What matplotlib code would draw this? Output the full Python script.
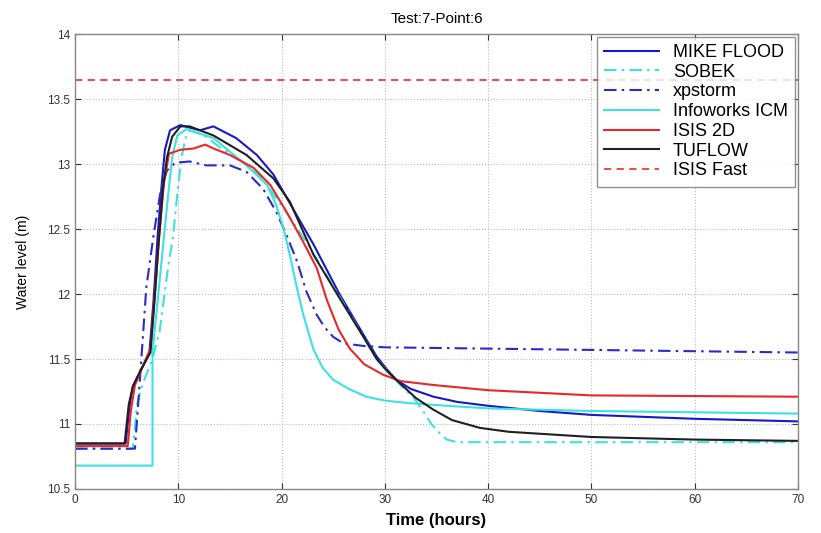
import matplotlib
matplotlib.use("Agg")
import matplotlib.pyplot as plt
import numpy as np

plt.rcParams['font.family'] = ['Liberation Sans', 'DejaVu Sans']

title = "Test:7-Point:6"
xlabel = "Time (hours)"
ylabel = "Water level (m)"

mike_t = [0, 4.9, 5.3, 5.6, 6.4, 7.2, 7.6, 8.0, 8.4, 8.7, 9.2, 10.2, 12.1, 13.4, 15.6, 17.6, 19.2, 20.5, 21.8, 23.1, 25.6, 28.2, 29.2, 30.2, 31.1, 32.5, 34.7, 37, 40, 45, 50, 60, 70]
mike_h = [10.85, 10.85, 11.15, 11.29, 11.42, 11.55, 11.95, 12.45, 12.85, 13.11, 13.26, 13.3, 13.26, 13.29, 13.2, 13.07, 12.92, 12.74, 12.56, 12.38, 12.0, 11.65, 11.52, 11.42, 11.34, 11.27, 11.21, 11.17, 11.14, 11.1, 11.07, 11.04, 11.02]

sobek_t = [0, 5.6, 6.0, 6.5, 7.5, 8.2, 9.0, 9.5, 9.9, 10.3, 10.7, 11.1, 12.5, 14, 16, 18, 20, 22.4, 25.6, 29.2, 31.5, 32.8, 33.7, 34.5, 35.3, 36, 37, 50, 70]
sobek_h = [10.81, 10.81, 11.15, 11.3, 11.5, 11.72, 12.2, 12.45, 12.77, 13.05, 13.2, 13.26, 13.22, 13.13, 13.03, 12.9, 12.68, 12.4, 11.98, 11.5, 11.3, 11.2, 11.1, 11.0, 10.93, 10.88, 10.86, 10.86, 10.86]

xp_t = [0, 5.8, 6.2, 6.9, 7.6, 8.3, 8.9, 9.7, 11.1, 12.7, 15, 16.6, 18.2, 19.5, 20.5, 21.5, 22.4, 23.4, 24.2, 25, 26, 28, 30, 40, 50, 70]
xp_h = [10.81, 10.81, 11.25, 12.05, 12.45, 12.8, 12.95, 13.01, 13.02, 12.99, 12.99, 12.94, 12.81, 12.63, 12.45, 12.25, 12.02, 11.84, 11.74, 11.67, 11.62, 11.6, 11.59, 11.58, 11.57, 11.55]

icm_t = [0, 7.5, 7.5, 8.0, 8.5, 9.0, 9.4, 9.9, 10.8, 13.4, 16.6, 18.6, 19.5, 20.2, 20.8, 21.5, 22.1, 23.1, 24, 25, 26.5, 28.2, 30, 32.4, 36, 40, 50, 70]
icm_h = [10.68, 10.68, 11.55, 11.95, 12.35, 12.75, 13.05, 13.22, 13.27, 13.2, 12.99, 12.84, 12.68, 12.5, 12.3, 12.04, 11.84, 11.57, 11.43, 11.34, 11.27, 11.21, 11.18, 11.16, 11.14, 11.12, 11.1, 11.08]

isis_t = [0, 5.1, 5.4, 5.8, 6.6, 7.3, 7.7, 8.1, 8.6, 9.1, 10.2, 11.5, 12.6, 13.4, 15, 17.3, 18.9, 20.5, 22.1, 23.4, 24.4, 25.5, 26.6, 28, 29.8, 31.5, 34.7, 40, 50, 70]
isis_h = [10.83, 10.83, 11.1, 11.3, 11.45, 11.58, 11.98, 12.4, 12.85, 13.08, 13.11, 13.12, 13.15, 13.12, 13.07, 12.97, 12.84, 12.63, 12.4, 12.2, 11.95, 11.73, 11.58, 11.46, 11.38, 11.33, 11.3, 11.26, 11.22, 11.21]

tuf_t = [0, 4.8, 5.2, 5.6, 6.4, 7.3, 7.7, 8.1, 8.5, 8.9, 9.4, 10.2, 11.1, 13.4, 16.6, 19.2, 20.8, 23.1, 25.6, 28, 29.2, 30.3, 31.5, 33, 34.7, 36.5, 39.2, 42, 50, 60, 70]
tuf_h = [10.85, 10.85, 11.15, 11.29, 11.42, 11.55, 11.95, 12.4, 12.8, 13.05, 13.21, 13.29, 13.29, 13.22, 13.07, 12.89, 12.71, 12.3, 11.97, 11.66, 11.5, 11.4, 11.31, 11.2, 11.11, 11.03, 10.97, 10.94, 10.9, 10.88, 10.87]

fast_t = [0, 70]
fast_h = [13.65, 13.65]

fig = plt.figure(figsize=(8.21, 5.33), dpi=100)
ax = fig.add_axes([0.0914, 0.0826, 0.8806, 0.8534])

lw = 1.5
ax.plot(mike_t, mike_h, color='#1818c8', lw=lw, ls='-', label='MIKE FLOOD')
ax.plot(sobek_t, sobek_h, color='#3ee0e0', lw=lw, ls=(0, (6, 2.5, 1.2, 2.5)), label='SOBEK')
ax.plot(xp_t, xp_h, color='#2a2ac8', lw=lw, ls=(0, (6, 2.5, 1.2, 2.5)), label='xpstorm')
ax.plot(icm_t, icm_h, color='#3ee0e0', lw=lw, ls='-', label='Infoworks ICM')
ax.plot(isis_t, isis_h, color='#e82828', lw=lw, ls='-', label='ISIS 2D')
ax.plot(tuf_t, tuf_h, color='#202020', lw=lw, ls='-', label='TUFLOW')
ax.plot(fast_t, fast_h, color='#f03a3a', lw=1.3, ls=(0, (4, 3)), label='ISIS Fast')

ax.set_xlim(0, 70)
ax.set_ylim(10.5, 14)
ax.set_xticks(np.arange(0, 71, 10))
ax.set_yticks(np.arange(10.5, 14.01, 0.5))
ax.set_yticklabels(['10.5', '11', '11.5', '12', '12.5', '13', '13.5', '14'])
ax.tick_params(direction='in', labelsize=8.5, top=True, right=True, length=4, colors='#333333')
ax.grid(True, ls=':', color='#bbbbbb', lw=0.8)
for s in ax.spines.values():
    s.set_color('#888888')
    s.set_linewidth(1.0)

ax.set_title(title, fontsize=11, pad=8)
ax.set_xlabel(xlabel, fontsize=12, fontweight='bold', labelpad=5)
ax.set_ylabel(ylabel, fontsize=10, labelpad=12)

leg = ax.legend(loc='upper right', fontsize=13, frameon=True, fancybox=False,
                edgecolor='#777777', handlelength=3.0, handletextpad=0.8,
                borderaxespad=0.15, labelspacing=0.15, borderpad=0.4)
leg.get_frame().set_linewidth(1.0)

fig.savefig('out.png', dpi=100)
